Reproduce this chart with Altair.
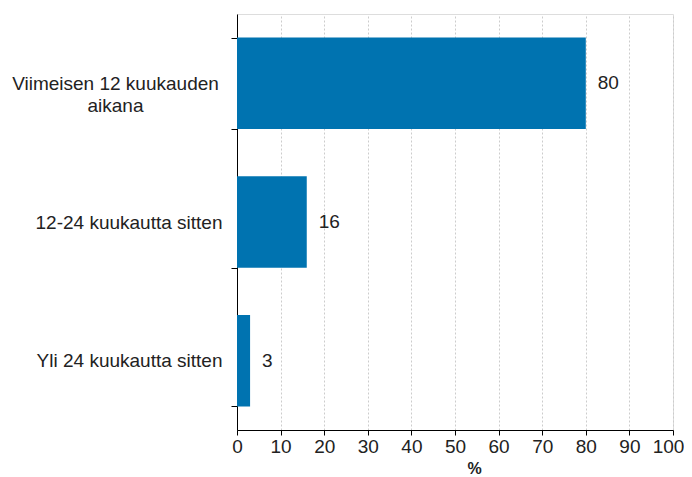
import altair as alt
import pandas as pd

categories = ["Viimeisen 12 kuukauden aikana", "12-24 kuukautta sitten", "Yli 24 kuukautta sitten"]
values = [80, 16, 3]

df = pd.DataFrame({"cat": categories, "val": values})

FONT = "Liberation Sans"
FS = 19
first = categories[0]

y_enc = alt.Y(
    "cat:N",
    sort=categories,
    title=None,
    scale=alt.Scale(paddingInner=0.34, paddingOuter=0.17),
    axis=alt.Axis(
        labelExpr="datum.value == '%s' ? ['Viimeisen 12 kuukauden', 'aikana'] : datum.value" % first,
        labelAlign={"condition": {"test": "datum.value == '%s'" % first, "value": "center"}, "value": "right"},
        labelPadding={"condition": {"test": "datum.value == '%s'" % first, "value": 116}, "value": 9},
        labelFont=FONT,
        labelFontSize=FS,
        labelColor="#222222",
        labelLineHeight=22,
        labelBaseline="middle",
        tickBand="extent",
        tickSize=6,
        tickColor="#000000",
        domainColor="#000000",
        grid=False,
        labelLimit=400,
    ),
)

x_enc = alt.X(
    "val:Q",
    title="%",
    scale=alt.Scale(domain=[0, 100], nice=False),
    axis=alt.Axis(
        values=list(range(0, 101, 10)),
        labelFont=FONT,
        labelFontSize=FS,
        labelColor="#222222",
        labelFlush=False,
        labelOverlap=False,
        labelBound=False,
        labelOffset={"condition": {"test": "datum.value == 100", "value": -5}, "value": 0},
        titleFont=FONT,
        titleFontSize=16,
        titleFontWeight="bold",
        titleColor="#222222",
        titleX=237,
        titleY=30,
        titleAlign="center",
        titleBaseline="top",
        tickSize=5,
        tickColor="#000000",
        domainColor="#000000",
        grid=True,
        gridColor="#cccccc",
        gridDash=[2, 2],
        labelPadding=2,
    ),
)

bars = alt.Chart(df).mark_bar(color="#0073B0").encode(x=x_enc, y=y_enc)
text = alt.Chart(df).mark_text(
    align="left", baseline="middle", dx=12, font=FONT, fontSize=FS, color="#222222"
).encode(
    x=alt.X("val:Q"),
    y=alt.Y("cat:N", sort=categories),
    text="val:Q",
)

chart = (
    alt.layer(bars, text)
    .properties(
        width=436,
        height=416,
        autosize=alt.AutoSizeParams(type="none"),
        padding={"left": 229, "top": 6, "right": 11, "bottom": 47},
    )
    .configure_view(strokeWidth=0, stroke="transparent")
    .configure(background="white")
)

chart.save("out.html", embed_options={"renderer": "svg", "actions": False})
